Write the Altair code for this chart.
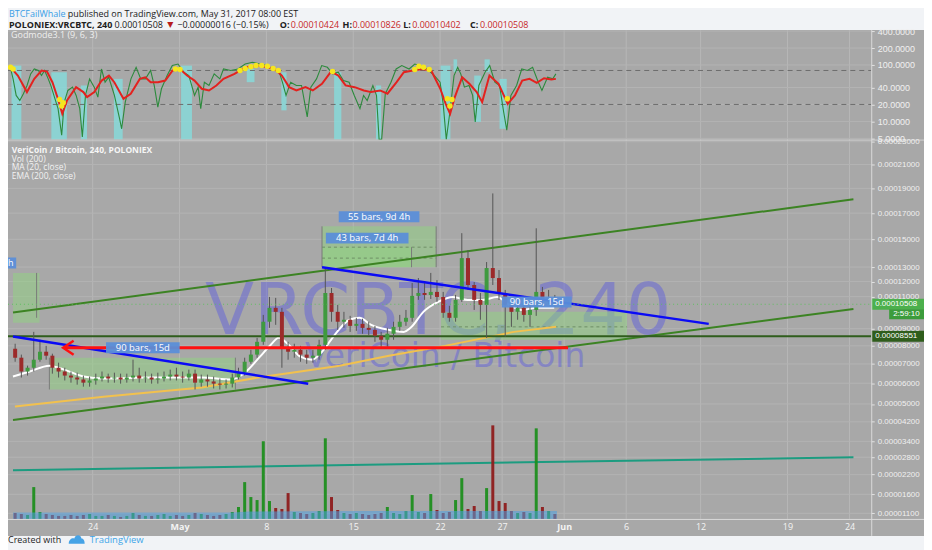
import altair as alt
import pandas as pd

BASE = pd.Timestamp("2017-04-17 00:00")


def ts(hours):
    return [BASE + pd.Timedelta(hours=float(h)) for h in hours]


FONT = "Open Sans"
AXFONT = "Liberation Sans"

# ---------------- price candles: 12h bars, values in satoshi (1e-8 BTC) ----------------
BAR_CENTER_FIRST = "2017-04-17 18:00"
OPEN = [7840, 7340, 6600, 6800, 7230, 7670, 7450, 6800, 6600, 6390,
        6290, 6190, 6030, 6140, 6240, 6340, 6240, 6290, 6190, 6290,
        6390, 6240, 6290, 6190, 6240, 6340, 6440, 6340, 6290, 6490,
        6030, 6190, 6090, 5980, 5930, 5980, 6290, 6540, 7120, 7510,
        8230, 9420, 10280, 10030, 7890, 7670, 7780, 7510, 7340, 7450,
        8060, 11240, 10030, 9420, 9540, 9170, 9290, 9050, 8930, 8580,
        8350, 8700, 9110, 9420, 9660, 11050, 11240, 11110, 11310, 10980,
        9970, 9660, 10790, 13630, 11770, 10790, 10470, 12930, 12240, 11240,
        10470, 10030, 10280, 9840, 10150, 11310, 10790, 10920]
CLOSE = [7340, 6600, 6800, 7230, 7670, 7450, 6800, 6600, 6390, 6290,
         6190, 6030, 6140, 6240, 6340, 6240, 6290, 6190, 6290, 6390,
         6240, 6290, 6190, 6240, 6340, 6440, 6340, 6290, 6490, 6030,
         6190, 6090, 5980, 5930, 5980, 6290, 6540, 7120, 7510, 8230,
         9420, 10280, 10030, 7890, 7670, 7780, 7510, 7340, 7450, 8060,
         11240, 10030, 9420, 9540, 9170, 9290, 9050, 8930, 8580, 8350,
         8700, 9110, 9420, 9660, 11050, 11240, 11110, 11310, 10980, 9970,
         9660, 10790, 13630, 11770, 10790, 10470, 12930, 12240, 11240, 10470,
         10030, 10280, 9840, 10150, 11310, 10790, 10920, 10508]
HIGH = [8120, 7510, 6910, 8810, 8350, 8000, 7560, 7070, 6800, 6600,
        6540, 6390, 6340, 6490, 6600, 6490, 6540, 6490, 6490, 7230,
        6800, 6600, 6490, 6540, 6600, 6700, 6800, 6600, 6700, 6700,
        6440, 6440, 6340, 6240, 6190, 6490, 6800, 7340, 7780, 8460,
        9840, 10980, 10920, 10280, 8230, 8120, 8000, 7780, 7780, 8350,
        12990, 11570, 10470, 10030, 9780, 9660, 9600, 9420, 9170, 8810,
        9050, 9420, 9840, 10150, 11900, 12240, 11970, 12590, 12100, 11310,
        10410, 11110, 15460, 14200, 11970, 11240, 13350, 18580, 12790, 11440,
        10790, 10660, 10600, 10470, 15830, 11640, 11440, 11110]
LOW = [7120, 6290, 6390, 6600, 7120, 7230, 6490, 6290, 6140, 6030,
       5930, 5830, 5830, 5930, 6090, 6030, 6030, 5980, 6030, 6090,
       6030, 6030, 5980, 5980, 6090, 6140, 6140, 6030, 6140, 5690,
       5830, 5830, 5740, 5690, 5740, 5790, 6190, 6390, 7010, 7340,
       8060, 9050, 9230, 6800, 7230, 7340, 7120, 7010, 7070, 7230,
       7780, 9420, 8930, 9050, 8810, 8870, 8700, 8580, 8230, 7950,
       7950, 8350, 8870, 9170, 9420, 10790, 10790, 10850, 10660, 9660,
       9420, 9420, 10660, 11440, 10150, 9540, 8460, 11770, 10790, 8520,
       9110, 9540, 9420, 9110, 9780, 10470, 10530, 10340]
VOLUME = [6, 5, 4, 32, 7, 5, 4, 3, 3, 4,
          3, 4, 5, 3, 3, 4, 3, 2, 3, 6,
          4, 3, 3, 4, 5, 3, 4, 3, 4, 6,
          5, 4, 3, 4, 5, 7, 12, 37, 22, 19,
          78, 18, 11, 10, 26, 7, 6, 5, 6, 8,
          81, 22, 9, 6, 5, 6, 5, 4, 5, 6,
          12, 6, 5, 8, 24, 7, 6, 25, 9, 6,
          7, 19, 41, 10, 13, 8, 31, 94, 18, 16,
          8, 6, 7, 6, 91, 12, 8, 5]

# moving averages (hours since 2017-04-17 00:00, satoshi)
MA_H = [13.8, 46.1, 84.2, 112.8, 150.9, 188.9, 284.2, 379.3, 436.4, 465, 489.8, 512.6,
        527.8, 547, 569.8, 592.6, 611.6, 636.3, 664.8, 684, 706.8, 741.1, 769.7, 782.9,
        807.7, 836.2, 864.8, 893.3, 921.9, 950.4, 973.3, 998, 1026.6, 1060.8]
MA_V = [6340, 6600, 6910, 6700, 6340, 6240, 6290, 6290, 6190, 6600, 7340, 8060,
        8460, 8060, 7400, 7230, 7670, 8640, 9540, 9660, 9230, 8930, 8810, 9050,
        10030, 10660, 10980, 10790, 10790, 10980, 10470, 10150, 10280, 10280]
EMA_H = [17.6, 188.9, 379.3, 487.8, 569.7, 645.8, 741, 849.5, 982.8, 1064.6]
EMA_V = [4880, 5340, 5790, 6290, 6600, 6910, 7450, 8000, 8810, 9110]

# volume MA (Vol 200)
VMA_H = [14, 440, 470, 700, 1066]
VMA_V = [6.5, 6.5, 7.5, 8, 8]

# ---------------- Godmode oscillator ----------------
RED_H = [9.2, 23.2, 40.8, 55, 69, 79.6, 90.1, 100.7, 109.2, 118.3, 135.9, 150, 157.1, 171.1,
         185.3, 199.4, 209.8, 227.5, 241.6, 259.2, 269.8, 280.2, 294.4, 308.4, 322.6, 336.7,
         350.6, 364.9, 379, 393, 407.2, 421, 442.3, 463.4, 491.4, 519.6, 533.9, 548, 562,
         579.7, 593.8, 611.5, 629, 643.2, 657.2, 674.8, 692.5, 706.5, 724.1, 738.2, 755.9,
         769.9, 787.5, 805.2, 822.8, 840.4, 850.9, 859.4, 868.5, 882.7, 896.7, 910.8, 921.4,
         935.5, 953.1, 970.8, 984.8, 998.9, 1013, 1027, 1041.1, 1055.2, 1064]
RED_V = [91, 65, 33.1, 56.8, 80, 76.5, 49.6, 25.2, 13.7, 23.5, 40.5, 33.1, 27, 33.1,
         53, 65, 49.6, 25.2, 31, 56.8, 60.7, 49.6, 49.6, 53, 80, 85,
         65, 53, 37.9, 35.4, 43.4, 56.8, 69.6, 91, 97.7, 85, 65, 40.5, 35.4,
         40.5, 35.4, 46.4, 76.5, 65, 43.4, 40.5, 35.4, 33.1, 35.4, 31, 49.6,
         74.5, 80, 85, 80, 37.9, 20.5, 13.7, 27, 60.7, 46.4, 33.1, 22,
         65, 46.4, 20.5, 28.9, 53, 56.8, 48.3, 58.3, 55.3, 56.8]
GREEN_H = [9, 14, 20, 27, 34, 41, 48, 55, 63, 69, 75, 82, 87, 94, 101, 108, 113, 120, 129, 136,
           143, 148, 154, 162, 171, 178, 185, 192, 199, 210, 220, 224, 231, 242, 252, 261, 270,
           280, 287, 294, 301, 312, 322, 333, 344, 354, 365, 372, 377, 384, 393, 403, 414, 421,
           435, 449, 463, 477, 491, 506, 520, 528, 535, 542, 551, 562, 572, 583, 590, 601, 611,
           622, 632, 643, 653, 664, 674, 685, 692, 699, 710, 717, 722, 727, 734, 745, 755, 766,
           780, 791, 801, 815, 829, 840, 846, 852, 859, 867, 874, 880, 887, 896, 903, 908, 915,
           927, 936, 946, 955, 963, 969, 977, 988, 998, 1009, 1019, 1030, 1037, 1048, 1058, 1064]
GREEN_V = [88, 56.8, 28.9, 23.5, 31, 43.4, 69.6, 85, 80, 65, 80, 56.8, 43.4, 27, 16.8, 5.7, 22,
           35.4, 40.5, 28.9, 16.8, 5.3, 28.9, 56.8, 40.5, 27, 85, 49.6, 60.7, 28.9, 11.2, 7.4, 22,
           56.8, 91, 56.8, 56.8, 80, 43.4, 17.9, 37.9, 65, 97.7, 104, 74.5, 65, 28.9, 40.5, 16.8,
           49.6, 43.4, 69.6, 56.8, 85, 80, 85, 104, 112, 104, 97.7, 80, 80, 49.6, 28.9, 49.6,
           43.4, 43.4, 12, 40.5, 56.8, 97.7, 91, 69.6, 74.5, 53, 49.6, 28.9, 16.8, 28.9, 23.5,
           43.4, 28.9, 4.8, 4.8, 31, 49.6, 85, 97.7, 85, 104, 97.7, 85, 65, 49.6, 20.5, 4.8, 14.7,
           65, 91, 69.6, 40.5, 43.4, 28.9, 9.8, 43.4, 74.5, 97.7, 49.6, 43.4, 14.7, 7.0, 28.9,
           43.4, 85, 80, 91, 49.6, 35.4, 60.7, 56.8, 69.6]
CY_H1 = [11, 88, 145, 209, 339, 466, 533, 635, 716, 841, 866, 906, 926, 955]
CY_H2 = [30, 118, 157, 226, 360, 481, 543, 649, 726, 860, 873, 919, 936, 969]
CY_TOP = [97.7, 74.5, 43.4, 56.8, 97.7, 85, 74.5, 74.5, 43.4, 97.7, 126, 65, 126, 56.8]
CY_BOT = [4.8, 4.8, 4.8, 4.8, 4.8, 49.6, 15.7, 4.8, 4.8, 4.8, 74.5, 9.8, 74.5, 7.4]
YD_H = [9, 14, 104, 108, 111, 328, 337, 453, 463, 474, 484, 495, 506, 517, 527, 632,
        791, 799, 808, 819, 854, 859, 863, 970]
YD_V = [91, 85, 24.5, 18.7, 21.5, 85, 83, 80, 87, 93, 97.7, 97.7, 95, 87, 80, 76.5,
        83, 95, 91, 83, 25.2, 18.7, 24.5, 25.2]

# ---------------- drawings ----------------
CH_UP_H, CH_UP_V = [13.8, 1639.6], [9995, 18100]
CH_LO_H, CH_LO_V = [13.8, 1639.6], [4280, 10210]
TEAL_H, TEAL_V = [13.8, 1639.6], [2346, 2796]
BLUE1_H, BLUE1_V = [13.8, 584.9], [8540, 5980]
BLUE2_H, BLUE2_V = [611.6, 1359.7], [12990, 9290]
REDL_H, REDL_V = [112.8, 1087.5], [7890, 7890]
SUPPORT = 8551
LAST = 10508
BOX_H1 = [13.8, 84.2, 611.6, 611.6, 841.9]
BOX_H2 = [65.2, 444.0, 832.4, 784.8, 1201.7]
BOX_LO = [9355, 5690, 12990, 12990, 8350]
BOX_HI = [12590, 7340, 15980, 14420, 10030]
EDGE_H = [59.5, 84.2, 444.0, 611.6, 784.8, 832.4]
EDGE_LO = [9660, 5690, 5690, 12990, 12990, 12990]
EDGE_HI = [12590, 7340, 7340, 15980, 14420, 15980]
DASH_H1 = [611.6, 611.6, 841.9]
DASH_H2 = [832.4, 832.4, 1201.7]
DASH_V = [14420, 13630, 9110]
TAG_TEXT = ["55 bars, 9d 4h", "43 bars, 7d 4h", "90 bars, 15d", "90 bars, 15d"]
TAG_H = [722, 699, 265, 1027]
TAG_V = [16720, 15090, 7890, 10660]
CUT_TAG_H, CUT_TAG_V = -58, 13280   # label of the box that starts left of the view; only "h" shows

PRICE_TICKS = [1100, 1600, 2200, 2800, 3400, 4200, 5000, 6000, 7000, 8000, 9000,
               11000, 12000, 13000, 15000, 17000, 19000, 21000, 23000]
OSC_TICKS = [5, 10, 20, 40, 100, 200, 400]
DATE_TICKS = [(4, 24), (5, 1), (5, 8), (5, 15), (5, 22), (5, 27), (6, 1), (6, 6), (6, 12), (6, 19), (6, 24)]

# ---------------- scales & axes ----------------
XS = alt.Scale(domain=[alt.DateTime(year=2017, month=4, date=17, hours=13, minutes=48),
                       alt.DateTime(year=2017, month=6, date=25, hours=8, minutes=24)], nice=False)
PS = alt.Scale(type="pow", exponent=0.57, domain=[967, 23100], range=[491, 111], nice=False, zero=False)
OS = alt.Scale(type="log", domain=[4.76, 416], range=[110, 0], nice=False)
VS = alt.Scale(domain=[0, 100], range=[491, 391], nice=False, zero=False)

XAX = alt.Axis(values=[alt.DateTime(year=2017, month=m, date=d) for m, d in DATE_TICKS],
               labelExpr="date(datum.value) == 1 ? timeFormat(datum.value, '%b') : '' + date(datum.value)",
               labelFontWeight={"condition": {"test": "date(datum.value) == 1", "value": "bold"}, "value": "normal"},
               labelColor="#f4f4f4", labelFont=FONT, labelFontSize=9, ticks=False, domain=False, grid=False,
               labelPadding=4, title=None, zindex=1, labelOverlap=False)
PAX = alt.Axis(orient="right", values=PRICE_TICKS, labelExpr="format(datum.value / 100000000, '.8f')",
               labelColor="#f0f0f0", labelFont=AXFONT, labelFontSize=8, tickColor="#e2e2e2", tickSize=3,
               domain=False, grid=False, title=None, zindex=1, labelPadding=3, labelOverlap=False)
OAX = alt.Axis(orient="right", values=OSC_TICKS, format=".4f", labelColor="#f0f0f0", labelFont=AXFONT,
               labelFontSize=9, tickColor="#e2e2e2", tickSize=3, domain=False, grid=False, title=None,
               zindex=1, labelPadding=3, labelOverlap=False)


def X(f):
    return alt.X(f, type="temporal", scale=XS, axis=XAX)


def PY(f):
    return alt.Y(f, type="quantitative", scale=PS, axis=PAX)


def OY(f):
    return alt.Y(f, type="quantitative", scale=OS, axis=OAX)


def VY(f):
    return alt.Y(f, type="quantitative", scale=VS, axis=None)


def line_df(h, v):
    return pd.DataFrame({"t": ts(h), "v": v})


one = pd.DataFrame({"k": [0]})

# ---------------- oscillator panel ----------------
O = []
O.append(alt.Chart(one).mark_rect(color="#a8a8a8").encode(
    x=alt.value(0), x2=alt.value(920), y=alt.value(0), y2=alt.value(508)))
date_ticks = pd.DataFrame({"t": [pd.Timestamp(2017, m, d) for m, d in DATE_TICKS]})
O.append(alt.Chart(date_ticks).mark_rule(color="#b6b6b6", strokeWidth=1).encode(
    x=X("t"), y=alt.value(0), y2=alt.value(491)))
O.append(alt.Chart(pd.DataFrame({"v": OSC_TICKS})).mark_rule(color="#b3b3b3", strokeWidth=1).encode(
    y=OY("v"), x=alt.value(0), x2=alt.value(867)))
cy = pd.DataFrame({"t1": ts(CY_H1), "t2": ts(CY_H2), "top": CY_TOP, "bot": CY_BOT})
O.append(alt.Chart(cy).mark_rect(color="#84dcdc", opacity=0.8).encode(
    x=X("t1"), x2="t2", y=OY("top"), y2="bot"))
O.append(alt.Chart(pd.DataFrame({"v": [80, 20]})).mark_rule(color="#6c6c6c", strokeDash=[5, 4]).encode(
    y=OY("v"), x=alt.value(0), x2=alt.value(867)))
O.append(alt.Chart(line_df(GREEN_H, GREEN_V)).mark_line(color="#2c8a3c", strokeWidth=1.1).encode(
    x=X("t"), y=OY("v")))
O.append(alt.Chart(line_df(RED_H, RED_V)).mark_line(color="#e3221f", strokeWidth=2).encode(
    x=X("t"), y=OY("v")))
O.append(alt.Chart(line_df(YD_H, YD_V)).mark_circle(color="#f5e61e", size=30, opacity=1).encode(
    x=X("t"), y=OY("v")))

# ---------------- price panel ----------------
P = []
P.append(alt.Chart(pd.DataFrame({"v": PRICE_TICKS})).mark_rule(color="#b3b3b3", strokeWidth=1).encode(
    y=PY("v"), x=alt.value(0), x2=alt.value(867)))
P.append(alt.Chart(pd.DataFrame({"s": ["VRCBTC, 240"]})).mark_text(
    font="DejaVu Sans", fontSize=72, color="#5a5ae0", opacity=0.45, align="center", baseline="middle").encode(
    x=alt.value(432), y=alt.value(283), text="s:N"))
P.append(alt.Chart(pd.DataFrame({"s": ["VeriCoin / Bitcoin"]})).mark_text(
    font="DejaVu Sans", fontSize=33, color="#5a5ae0", opacity=0.45, align="center", baseline="middle").encode(
    x=alt.value(439), y=alt.value(328), text="s:N"))
boxes = pd.DataFrame({"t1": ts(BOX_H1), "t2": ts(BOX_H2), "lo": BOX_LO, "hi": BOX_HI})
P.append(alt.Chart(boxes).mark_rect(color="#8fd47f", opacity=0.5, clip=True).encode(
    x=X("t1"), x2="t2", y=PY("lo"), y2="hi"))
edges = pd.DataFrame({"t": ts(EDGE_H), "lo": EDGE_LO, "hi": EDGE_HI})
P.append(alt.Chart(edges).mark_rule(color="#7a7a7a", strokeWidth=1).encode(x=X("t"), y=PY("lo"), y2="hi"))
dashes = pd.DataFrame({"t1": ts(DASH_H1), "t2": ts(DASH_H2), "v": DASH_V})
P.append(alt.Chart(dashes).mark_rule(color="#6f8f66", strokeDash=[3, 3], strokeWidth=1).encode(
    x=X("t1"), x2="t2", y=PY("v")))
P.append(alt.Chart(line_df(EMA_H, EMA_V)).mark_line(color="#f2c14e", strokeWidth=2).encode(x=X("t"), y=PY("v")))
P.append(alt.Chart(line_df(MA_H, MA_V)).mark_line(color="#ffffff", strokeWidth=2, interpolate="monotone").encode(
    x=X("t"), y=PY("v")))
P.append(alt.Chart(line_df(CH_UP_H, CH_UP_V)).mark_line(color="#3c8323", strokeWidth=2).encode(x=X("t"), y=PY("v")))
P.append(alt.Chart(line_df(CH_LO_H, CH_LO_V)).mark_line(color="#3c8323", strokeWidth=2).encode(x=X("t"), y=PY("v")))
P.append(alt.Chart(line_df(TEAL_H, TEAL_V)).mark_line(color="#1c9c80", strokeWidth=2).encode(x=X("t"), y=PY("v")))
P.append(alt.Chart(pd.DataFrame({"v": [SUPPORT]})).mark_rule(color="#2f5d1c", strokeWidth=2).encode(
    y=PY("v"), x=alt.value(0), x2=alt.value(867)))

bar_t = pd.date_range(BAR_CENTER_FIRST, periods=len(CLOSE), freq="12h")
candles = pd.DataFrame({"t": bar_t, "o": OPEN, "hi": HIGH, "lo": LOW, "c": CLOSE, "vol": VOLUME})
updown = alt.condition("datum.c >= datum.o", alt.value("#3f9a3f"), alt.value("#9c2a2a"))
P.append(alt.Chart(candles).mark_rule(color="#555555", strokeWidth=1).encode(x=X("t"), y=PY("lo"), y2="hi"))
P.append(alt.Chart(candles).mark_bar(size=4).encode(x=X("t"), y=PY("o"), y2="c", color=updown))

P.append(alt.Chart(line_df(BLUE1_H, BLUE1_V)).mark_line(color="#0a0af5", strokeWidth=2.5).encode(x=X("t"), y=PY("v")))
P.append(alt.Chart(line_df(BLUE2_H, BLUE2_V)).mark_line(color="#0a0af5", strokeWidth=2.5).encode(x=X("t"), y=PY("v")))
P.append(alt.Chart(line_df(REDL_H, REDL_V)).mark_line(color="#ff1010", strokeWidth=3).encode(x=X("t"), y=PY("v")))
P.append(alt.Chart(line_df(REDL_H[:1], REDL_V[:1])).mark_point(
    shape="M0.5,-1L-1,0L0.5,1", filled=False, color="#ff1010", strokeWidth=2.5, size=196, opacity=1,
    xOffset=6).encode(x=X("t"), y=PY("v")))
P.append(alt.Chart(pd.DataFrame({"v": [LAST]})).mark_rule(color="#5fc05f", strokeDash=[1, 3], strokeWidth=1).encode(
    y=PY("v"), x=alt.value(0), x2=alt.value(867)))

TAG_W = [81, 83, 74, 70]
for s, h, v, w in zip(TAG_TEXT, TAG_H, TAG_V, TAG_W):
    d = pd.DataFrame({"t": ts([h]), "v": [v], "s": [s]})
    a = 11.0 / w
    P.append(alt.Chart(d).mark_point(shape=f"M-1,-{a:.4f}H1V{a:.4f}H-1Z", size=w * w, filled=True,
                                     color="#5b8ed8", strokeWidth=0, opacity=0.95, clip=True).encode(
        x=X("t"), y=PY("v")))
    P.append(alt.Chart(d).mark_text(color="#ffffff", font=FONT, fontSize=9.5).encode(
        x=X("t"), y=PY("v"), text="s:N"))
# the cut-off label at the left edge
dcut = pd.DataFrame({"t": ts([CUT_TAG_H]), "v": [CUT_TAG_V], "s": ["h"]})
P.append(alt.Chart(dcut).mark_point(shape="M-1,-0.1358H1V0.1358H-1Z", size=81 * 81, filled=True,
                                    color="#5b8ed8", strokeWidth=0, opacity=0.95, clip=True).encode(
    x=X("t"), y=PY("v")))
P.append(alt.Chart(dcut).mark_text(color="#ffffff", font=FONT, fontSize=9, align="left", xOffset=-4).encode(
    x=alt.value(4), y=PY("v"), text="s:N"))

# price tags on the axis
P.append(alt.Chart(pd.DataFrame({"v": [LAST]})).mark_rule(color="#4cb04c", strokeWidth=11).encode(
    y=PY("v"), x=alt.value(867), x2=alt.value(920)))
P.append(alt.Chart(pd.DataFrame({"v": [LAST]})).mark_rule(color="#3c9c3c", strokeWidth=10, yOffset=10).encode(
    y=PY("v"), x=alt.value(885), x2=alt.value(920)))
P.append(alt.Chart(pd.DataFrame({"v": [SUPPORT]})).mark_rule(color="#2f5d1c", strokeWidth=11).encode(
    y=PY("v"), x=alt.value(867), x2=alt.value(920)))
P.append(alt.Chart(pd.DataFrame({"v": [LAST, SUPPORT], "s": ["0.00010508", "0.00008551"]})).mark_text(
    color="#ffffff", font=AXFONT, fontSize=8, align="left").encode(
    y=PY("v"), x=alt.value(871), text="s:N"))
P.append(alt.Chart(pd.DataFrame({"v": [LAST], "s": ["2:59:10"]})).mark_text(
    color="#ffffff", font=AXFONT, fontSize=8, align="left", yOffset=10).encode(
    y=PY("v"), x=alt.value(889), text="s:N"))

# ---------------- volume ----------------
V = []
V.append(alt.Chart(candles).mark_bar(size=3, opacity=0.95).encode(
    x=X("t"), y=VY("vol"),
    color=alt.condition("datum.c >= datum.o", alt.value("#1e8e1e"), alt.value("#8e1c1c"))))
V.append(alt.Chart(line_df(VMA_H, VMA_V)).mark_area(color="#4d9fe0", opacity=0.55).encode(
    x=X("t"), y=VY("v")))


# ---------------- decorations & texts ----------------
def vtext(x, y, s, **kw):
    return alt.Chart(pd.DataFrame({"s": [s]})).mark_text(align="left", baseline="middle", **kw).encode(
        x=alt.value(x), y=alt.value(y), text="s:N")


D = []
D.append(alt.Chart(one).mark_rule(color="#d2d2d2", strokeWidth=1).encode(
    x=alt.value(0), x2=alt.value(920), y=alt.value(110.5)))
D.append(alt.Chart(one).mark_rule(color="#dadada", strokeWidth=1).encode(
    x=alt.value(0), x2=alt.value(920), y=alt.value(491.5)))
D.append(alt.Chart(one).mark_rule(color="#dadada", strokeWidth=1).encode(
    x=alt.value(867.5), y=alt.value(0), y2=alt.value(508)))

D.append(vtext(3, 5, "Godmode3.1 (9, 6, 3)", font=FONT, fontSize=9, color="#efefef"))
D.append(vtext(3.7, 120, "VeriCoin / Bitcoin, 240, POLONIEX", font=FONT, fontSize=8.5, color="#f6f6f6", fontWeight="bold"))
D.append(vtext(3.7, 129, "Vol (200)", font=FONT, fontSize=8.5, color="#f2f2f2"))
D.append(vtext(3.7, 138, "MA (20, close)", font=FONT, fontSize=8.5, color="#f2f2f2"))
D.append(vtext(3.7, 147, "EMA (200, close)", font=FONT, fontSize=8.5, color="#f2f2f2"))

DARK = "#202020"
REDT = "#c62828"
L1, L2 = -16.5, -5.5
D.append(vtext(1, L1, "BTCFailWhale", font=FONT, fontSize=9, color="#3a9ee6"))
D.append(vtext(60, L1, "published on TradingView.com, May 31, 2017 08:00 EST", font=FONT, fontSize=9, color=DARK))
D.append(vtext(1, L2, "POLONIEX:VRCBTC, 240", font=FONT, fontSize=9, color=DARK, fontWeight="bold"))
D.append(vtext(107, L2, "0.00010508", font=FONT, fontSize=9, color=DARK))
D.append(vtext(160, L2, "▼", font="DejaVu Sans", fontSize=8, color="#b71c1c"))
D.append(vtext(170, L2, "−0.00000016 (−0.15%)", font=FONT, fontSize=9, color=DARK))
for lx, lab, vx, val in [(273, "O:", 284, "0.00010424"), (336, "H:", 346, "0.00010826"),
                         (397, "L:", 406, "0.00010402"), (464, "C:", 474, "0.00010508")]:
    D.append(vtext(lx, L2, lab, font=FONT, fontSize=9, color=DARK, fontWeight="bold"))
    D.append(vtext(vx, L2, val, font=FONT, fontSize=9, color=REDT))

D.append(vtext(0, 512, "Created with", font=FONT, fontSize=9, color="#1e1e1e"))
D.append(alt.Chart(one).mark_point(
    shape="M-1,0.6C-1,0.1 -0.6,-0.15 -0.3,-0.05C-0.15,-0.6 0.5,-0.6 0.6,-0.05C0.9,-0.05 1,0.3 1,0.6Z",
    filled=True, color="#45a3e6", size=256, opacity=1, strokeWidth=0).encode(x=alt.value(69), y=alt.value(511)))
D.append(vtext(82, 512, "TradingView", font=FONT, fontSize=9.5, color="#3ea6e9"))

chart = alt.layer(
    alt.layer(*O), alt.layer(*P), alt.layer(*V), alt.layer(*D)
).resolve_scale(y="independent").properties(
    width=867, height=491,
    autosize=alt.AutoSizeParams(type="none"),
    padding={"left": 0, "top": 21, "right": 53, "bottom": 30},
).configure(background="#f1f3f6").configure_view(strokeWidth=0)

chart.save("out.html", embed_options={"renderer": "svg", "actions": False})
